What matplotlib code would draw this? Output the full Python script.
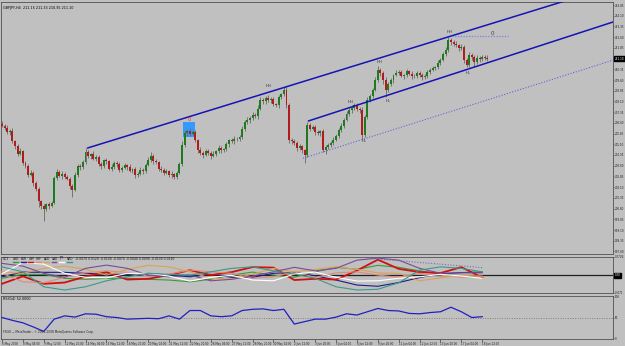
import matplotlib
matplotlib.use("Agg")
import matplotlib.pyplot as plt
from matplotlib.patches import Rectangle
from matplotlib.lines import Line2D
import matplotlib.transforms as mtransforms

# ---------------- data ----------------
SYMBOL = "GBPJPY,H4"
FIRST_OPEN = 206.55
CLOSES = [
    206.40, 206.25, 205.95, 206.05, 205.30, 205.00, 204.45, 204.60, 203.80, 203.55,
    202.95, 203.10, 202.40, 202.00, 201.10, 200.75, 200.60, 200.90, 200.80, 201.00,
    202.75, 203.15, 202.90, 203.05, 202.80, 202.70, 202.20, 201.90, 202.95, 203.60,
    203.50, 203.85, 204.55, 204.30, 204.40, 204.10, 204.20, 203.70, 203.55, 204.00,
    203.90, 203.40, 203.50, 203.80, 203.70, 203.30, 203.45, 203.65, 203.50, 203.25,
    203.35, 202.95, 203.05, 203.30, 203.20, 203.65, 204.00, 204.30, 203.90, 203.85,
    203.40, 203.30, 203.10, 203.20, 202.95, 203.00, 202.80, 203.10, 203.70, 205.05,
    205.90, 206.05, 205.85, 205.95, 205.40, 204.70, 204.50, 204.35, 204.60, 204.50,
    204.30, 204.45, 204.60, 204.85, 204.70, 204.75, 205.10, 205.40, 205.30, 205.45,
    205.50, 205.60, 206.20, 206.65, 206.80, 206.95, 207.15, 207.05, 207.60, 208.20,
    208.10, 208.35, 208.20, 208.25, 207.90, 207.85, 208.40, 208.60, 208.90, 207.85,
    205.40, 205.30, 205.20, 204.85, 204.95, 204.70, 204.35, 206.45, 206.20, 206.30,
    205.95, 205.90, 206.00, 204.70, 204.90, 205.05, 205.20, 205.40, 205.70, 206.10,
    206.40, 206.80, 207.20, 207.50, 207.65, 207.85, 207.60, 207.50, 205.75, 207.00,
    208.20, 208.50, 208.90, 209.60, 210.30, 210.10, 209.60, 208.90, 209.30, 209.60,
    209.95, 210.10, 210.15, 209.90, 209.95, 210.20, 210.05, 209.85, 209.90, 210.10,
    209.95, 209.80, 209.90, 210.15, 210.30, 210.45, 210.50, 210.80, 211.00, 211.40,
    211.70, 212.40, 212.25, 212.15, 212.05, 211.85, 211.90, 211.00, 210.65, 211.35,
    211.20, 210.85, 211.15, 211.05, 211.20, 211.15, 211.10,
]
UP_WICK_PIPS = [
    15, 10, 20, 12, 18, 10, 15, 22, 10, 12, 15, 20, 10, 14, 12, 10, 18, 12, 15, 10,
    15, 20, 12, 18, 10, 15, 12, 10, 20, 15, 12, 18, 30, 15, 10, 20, 12, 15, 18, 10,
    14, 12, 20, 15, 10, 18, 12, 15, 10, 22, 12, 14, 10, 18, 15, 12, 20, 26, 12, 15,
    10, 18, 12, 15, 10, 20, 12, 14, 18, 25, 20, 15, 22, 12, 15, 10, 18, 12, 20, 15,
    12, 18, 10, 20, 15, 12, 18, 10, 15, 20, 12, 14, 18, 15, 20, 12, 18, 15, 22, 20,
    15, 12, 20, 15, 18, 10, 15, 12, 20, 25, 15, 12, 18, 10, 15, 12, 10, 20, 15, 18,
    12, 15, 10, 18, 12, 15, 10, 20, 12, 15, 18, 12, 20, 15, 18, 12, 15, 10, 20, 15,
    18, 15, 12, 20, 25, 15, 12, 18, 15, 12, 10, 18, 12, 15, 10, 18, 12, 15, 10, 14,
    12, 15, 10, 18, 12, 15, 10, 20, 15, 18, 20, 20, 15, 12, 18, 10, 20, 15, 12, 18,
    15, 12, 18, 10, 14, 12, 18,
]
LOW_WICK_PIPS = [
    12, 15, 10, 18, 12, 20, 15, 10, 18, 12, 15, 10, 20, 15, 40, 18, 90, 15, 20, 12,
    10, 15, 12, 20, 15, 12, 20, 50, 10, 15, 18, 12, 10, 15, 20, 12, 18, 10, 15, 12,
    18, 12, 15, 10, 20, 12, 15, 10, 18, 12, 15, 20, 12, 10, 15, 12, 10, 15, 20, 12,
    15, 12, 18, 10, 15, 20, 12, 15, 10, 12, 15, 20, 18, 12, 15, 20, 12, 18, 10, 15,
    20, 12, 15, 10, 18, 12, 15, 20, 10, 15, 12, 18, 10, 15, 12, 20, 15, 10, 18, 12,
    15, 20, 12, 18, 10, 15, 20, 12, 15, 18, 20, 15, 12, 20, 15, 18, 56, 15, 20, 12,
    18, 15, 20, 12, 25, 15, 12, 18, 10, 15, 12, 18, 10, 15, 20, 12, 15, 18, 28, 15,
    12, 15, 18, 10, 15, 20, 25, 49, 12, 15, 18, 10, 15, 12, 20, 15, 12, 18, 10, 15,
    12, 18, 10, 15, 12, 10, 15, 12, 18, 10, 15, 12, 18, 15, 12, 20, 15, 20, 15, 12,
    18, 35, 15, 20, 12, 18, 15,
]

PRICE_TICKS = [214.85, 214.10, 213.35, 212.60, 211.85, 211.10, 210.35, 209.60,
               208.85, 208.10, 207.35, 206.60, 205.85, 205.10, 204.35, 203.60,
               202.85, 202.10, 201.35, 200.60, 199.85, 199.10, 198.35, 197.60]

TIME_LABELS = ["6 May 2008", "8 May 04:00", "9 May 12:00", "12 May 20:00",
               "14 May 04:00", "15 May 12:00", "16 May 20:00", "20 May 04:00",
               "21 May 12:00", "22 May 20:00", "26 May 04:00", "27 May 12:00",
               "28 May 20:00", "30 May 04:00", "2 Jun 12:00", "3 Jun 20:00",
               "5 Jun 04:00", "6 Jun 12:00", "9 Jun 20:00", "11 Jun 04:00",
               "12 Jun 12:00", "13 Jun 20:00", "17 Jun 04:00", "18 Jun 12:00"]
TIME_LABEL_BARS = list(range(0, 185, 8))

# trend lines: (bar0, price0, bar1, price1)
UPPER_LINE = (32.6, 204.83, 192.0, 213.80)
MIDDLE_LINE = (117.2, 206.72, 234.1, 213.66)
DOTTED_LINE = (115.3, 204.12, 234.1, 210.99)
TOP_DOTTED = (172.4, 212.68, 193.9, 212.68)
BOX_ZONE = (69.3, 205.61, 73.9, 206.66)

WAVE_LABELS = [("HH", 102.3, 209.18), ("HH", 133.7, 208.06), ("HL", 138.7, 205.33),
               ("HH", 144.8, 210.86), ("HL", 147.9, 208.13), ("HH", 171.6, 212.96),
               ("HL", 178.5, 210.09)]

# currency strength panel ("CCI")
CCI_BARS = list(range(0, 185, 8))
CURRENCIES = ["USD", "EUR", "GBP", "CHF", "AUD", "CAD", "JPY", "NZD"]
CCI_USD = [-0.013, 0.003, 0.003, -0.013, -0.017, -0.013, -0.013, -0.017, -0.020, -0.027, -0.017, 0.000,
           0.012, 0.000, -0.009, 0.013, 0.031, 0.023, 0.039, 0.031, 0.017, 0.004, -0.004, -0.007]
CCI_EUR = [-0.007, 0.012, 0.011, 0.011, 0.007, 0.003, 0.003, 0.007, 0.000, -0.007, 0.003, -0.009,
           -0.009, 0.007, 0.011, -0.003, -0.020, -0.040, -0.045, -0.030, -0.010, 0.005, 0.010, 0.012]
CCI_GBP = [-0.035, -0.005, -0.035, -0.030, -0.006, 0.012, -0.018, -0.015, 0.000, 0.020, 0.000, 0.012,
           0.032, 0.030, -0.020, -0.015, -0.018, 0.018, 0.062, 0.025, 0.012, 0.008, 0.032, -0.010]
CCI_CHF = [0.007, -0.027, -0.031, -0.009, 0.009, 0.017, 0.011, -0.004, 0.004, 0.020, 0.013, 0.007,
           -0.013, -0.007, 0.013, -0.009, 0.009, 0.013, 0.000, -0.009, 0.007, 0.000, -0.009, -0.007]
CCI_AUD = [0.013, 0.007, 0.027, 0.036, 0.023, 0.000, 0.023, 0.039, 0.033, 0.013, -0.013, -0.016,
           0.004, 0.027, 0.013, 0.023, 0.033, 0.023, 0.009, 0.007, -0.023, -0.011, -0.001, -0.004]
CCI_CAD = [0.047, 0.036, 0.007, -0.009, 0.027, 0.040, 0.027, 0.000, -0.007, 0.000, -0.023, -0.017,
           -0.004, 0.013, 0.031, 0.017, 0.027, 0.060, 0.068, 0.060, 0.027, 0.007, 0.009, 0.009]
CCI_JPY = [0.005, 0.050, 0.044, 0.007, -0.009, -0.011, 0.007, 0.007, -0.004, -0.024, -0.009, -0.001,
           -0.020, -0.023, 0.004, 0.012, -0.009, -0.024, -0.023, -0.013, -0.007, 0.003, -0.004, -0.013]
CCI_NZD = [0.033, 0.013, -0.047, -0.060, -0.047, -0.023, -0.007, 0.007, 0.003, 0.000, 0.013, 0.027,
           0.033, 0.017, 0.004, -0.013, -0.047, -0.060, -0.057, -0.031, 0.020, 0.033, 0.027, 0.013]
CCI_TREND = (140, 0.068, 184, 0.030)

RSI_BARS = list(range(0, 185, 4))
RSI_VALUES = [50, 43, 37, 27, 16, 46, 54, 51, 59, 58,
              52, 50, 46, 47, 48, 47, 54, 46, 67, 67,
              54, 52, 54, 67, 70, 71, 67, 70, 34, 40,
              46, 46, 51, 59, 56, 64, 72, 67, 66, 60,
              59, 62, 64, 75, 64, 50, 52]

# ---------------- styling ----------------
W, H = 625, 346
BG = "#c0c0c0"
FRAME = "#505050"
CUR_COLORS = ["#3a9a3a", "#1c1c8c", "#d01010", "#e08a7a", "#e0a050", "#7a4a9a", "#ffffff", "#3a9a8a"]
FS = 2.0

fig = plt.figure(figsize=(W / 100, H / 100), dpi=100)
fig.patch.set_facecolor(BG)


def rect(l, t, r, b):
    return [l / W, 1 - b / H, (r - l) / W, (b - t) / H]


XL = (-0.38, 234.1)
ax = fig.add_axes(rect(1, 2, 613, 254))
axc = fig.add_axes(rect(1, 257, 613, 293))
axr = fig.add_axes(rect(1, 296, 613, 339))

for a in (ax, axc, axr):
    a.set_facecolor(BG)
    a.set_xlim(*XL)
    for s in a.spines.values():
        s.set_color(FRAME)
        s.set_linewidth(0.6)
    a.yaxis.tick_right()
    a.tick_params(axis="y", labelsize=FS, length=1.0, width=0.4, pad=0.4, colors="#202020")
    a.tick_params(axis="x", bottom=False, labelbottom=False)

# ---- main candles ----
n = len(CLOSES)
bars = list(range(n))
opens = [FIRST_OPEN] + CLOSES[:-1]
highs = [max(o, c) + u / 100 for o, c, u in zip(opens, CLOSES, UP_WICK_PIPS)]
lows = [min(o, c) - d / 100 for o, c, d in zip(opens, CLOSES, LOW_WICK_PIPS)]
body_bot = [min(o, c) for o, c in zip(opens, CLOSES)]
body_h = [max(abs(c - o), 0.03) for o, c in zip(opens, CLOSES)]
body_col = ["#1d7a1d" if c >= o else "#b01c1c" for o, c in zip(opens, CLOSES)]

bx0, by0, bx1, by1 = BOX_ZONE
ax.add_patch(Rectangle((bx0, by0), bx1 - bx0, by1 - by0, facecolor="#3399ff", edgecolor="none", zorder=1))
ax.vlines(bars, lows, highs, color="#686868", lw=0.6, zorder=3)
ax.bar(bars, body_h, bottom=body_bot, width=0.75, color=body_col, linewidth=0, zorder=4)

ax.set_ylim(197.42, 215.06)
ax.set_yticks(PRICE_TICKS)
ax.set_yticklabels([f"{p:.2f}" for p in PRICE_TICKS])


def ray(a, line, **kw):
    x0, y0, x1, y1 = line
    slope = (y1 - y0) / (x1 - x0)
    xe = XL[1] + 5
    a.plot([x0, xe], [y0, y0 + slope * (xe - x0)], **kw)


ray(ax, UPPER_LINE, color="#1414b4", lw=1.1, zorder=5, solid_capstyle="butt")
ray(ax, MIDDLE_LINE, color="#1414b4", lw=1.1, zorder=5, solid_capstyle="butt")
ray(ax, DOTTED_LINE, color="#6464d8", lw=0.8, ls=(0, (1, 1.5)), zorder=5)
ax.plot([TOP_DOTTED[0], TOP_DOTTED[2]], [TOP_DOTTED[1], TOP_DOTTED[3]],
        color="#8080e0", lw=0.9, ls=(0, (1, 1.2)), zorder=5)

for s, b, p in WAVE_LABELS:
    ax.text(b, p, s, fontsize=2.8, color="#303030", ha="center", va="center", zorder=6)
ax.text(71.6, 206.85, "0", fontsize=3.5, color="#e03030", ha="center", va="center", zorder=6)
ax.text(187.7, 212.85, "0", fontsize=4, color="#404040", ha="center", va="center", zorder=6)

last_close = CLOSES[-1]
trans_main = mtransforms.blended_transform_factory(ax.transAxes, ax.transData)
ax.text(1.003, last_close, f"{last_close:.2f}", transform=trans_main, fontsize=FS, color="white",
        ha="left", va="center", zorder=10, clip_on=False,
        bbox=dict(boxstyle="square,pad=0.2", fc="black", ec="black"))

fig.text(3 / W, 1 - 8 / H,
         f"{SYMBOL}  {opens[-1]:.2f} {highs[-1]:.2f} {lows[-1]:.2f} {last_close:.2f}",
         fontsize=2.4, color="black", va="center", ha="left")

# ---- currency strength panel ----
series = [CCI_USD, CCI_EUR, CCI_GBP, CCI_CHF, CCI_AUD, CCI_CAD, CCI_JPY, CCI_NZD]
for vals, col, name in zip(series, CUR_COLORS, CURRENCIES):
    axc.plot(CCI_BARS, vals, color=col, lw=1.3 if name == "GBP" else 0.8, zorder=3)
axc.axhline(0, color="#202020", lw=0.9, zorder=2)
axc.plot([CCI_TREND[0], CCI_TREND[2]], [CCI_TREND[1], CCI_TREND[3]], color="#7a6ab0",
         lw=0.8, ls=(0, (1, 1.5)), zorder=4)
axc.set_ylim(-0.072, 0.072)
axc.set_yticks([0.0726, -0.071])
axc.set_yticklabels(["0.0726", "-0.071"])
trans_c = mtransforms.blended_transform_factory(axc.transAxes, axc.transData)
axc.text(1.003, 0, "0.00", transform=trans_c, fontsize=FS, color="white", ha="left", va="center",
         clip_on=False, bbox=dict(boxstyle="square,pad=0.2", fc="black", ec="black"))

fig.text(3 / W, 1 - 259 / H, "CCI", fontsize=2.4, color="black", va="center")
for i, (name, col) in enumerate(zip(CURRENCIES, CUR_COLORS)):
    xp = 13 + 7.7 * i
    fig.text(xp / W, 1 - 258.5 / H, name, fontsize=2.2, color="#101010", va="center")
    fig.add_artist(Line2D([xp / W, (xp + 5) / W], [1 - 262 / H, 1 - 262 / H],
                          color=col, lw=1.0, transform=fig.transFigure))
fig.text(75 / W, 1 - 258.5 / H, " ".join(f"{v[-1]:.4f}" for v in series),
         fontsize=2.2, color="#101010", va="center")

# ---- RSI panel ----
axr.plot(RSI_BARS, RSI_VALUES, color="#2020c0", lw=0.9, zorder=3)
axr.axhline(50, color="#808080", lw=0.7, ls=(0, (1, 1.5)), zorder=2)
axr.set_ylim(-2.4, 102.4)
axr.set_yticks([100, 50, 0])
axr.set_yticklabels(["100", "50", "0"])
fig.text(3 / W, 1 - 299 / H, f"RSI(14) {RSI_VALUES[-1]:.4f}", fontsize=2.4, color="black", va="center")
fig.text(3 / W, 1 - 332 / H, "FXGO \u2014 MetaTrader - \u00a9 2001-2008 MetaQuotes Software Corp.",
         fontsize=2.1, color="#202020", va="center")

axr.tick_params(axis="x", bottom=True, labelbottom=True, labelsize=1.95, length=2, width=0.4,
                pad=0.5, colors="#202020", direction="out")
axr.set_xticks(TIME_LABEL_BARS)
axr.set_xticklabels(TIME_LABELS, ha="left")

fig.savefig("out.png", dpi=100, facecolor=BG)
